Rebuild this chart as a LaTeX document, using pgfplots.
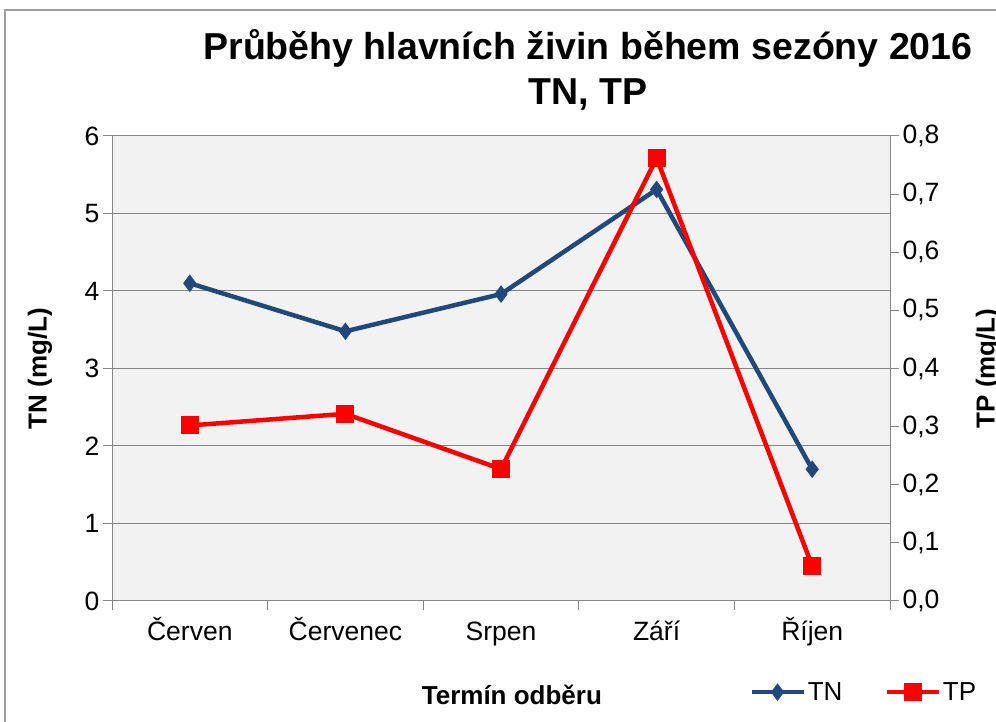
\documentclass[border=0pt]{standalone}
\usepackage{fontspec}
\setmainfont{Liberation Sans}
\usepackage{pgfplots}
\pgfplotsset{compat=1.18}
\definecolor{tnblue}{RGB}{31,73,125}
\definecolor{tpred}{RGB}{255,0,0}
\definecolor{plotbg}{RGB}{242,242,242}
\definecolor{axgray}{RGB}{134,134,134}
\begin{document}
\begin{tikzpicture}[x=1bp,y=1bp]
\useasboundingbox (0,0) rectangle (996,722);
\draw[color=axgray!80, line width=1.5bp] (5,-10) rectangle (1010,712);
\node[font=\fontsize{37.5bp}{45bp}\selectfont\bfseries, align=center] at (588,652) {Průběhy hlavních živin během sezóny 2016\\TN, TP};
\begin{axis}[
  at={(112bp,121bp)}, anchor=south west, scale only axis,
  width=778bp, height=465bp,
  xmin=-0.5, xmax=4.5, ymin=0, ymax=6,
  axis x line*=bottom, axis y line*=left,
  xtick={-0.5,0.5,1.5,2.5,3.5,4.5}, xticklabels={},
  extra x ticks={0,1,2,3,4},
  extra x tick labels={Červen,Červenec,Srpen,Září,Říjen},
  extra x tick style={major tick length=0pt,
    xticklabel style={anchor=north, text height=19bp, text depth=6bp, yshift=-17bp}},
  ytick={0,1,2,3,4,5,6},
  tick align=outside, major tick length=9bp,
  ymajorgrids, grid style={axgray, line width=1bp},
  axis line style={axgray, line width=1bp, -},
  tick style={axgray, line width=1bp},
  axis background/.style={fill=plotbg},
  ticklabel style={font=\fontsize{26.5bp}{30bp}\selectfont, black},
  /pgf/number format/assume math mode=true,
  xlabel={Termín odběru}, ylabel={TN (mg/L)},
  label style={font=\fontsize{26bp}{30bp}\selectfont\bfseries},
  xlabel style={at={(axis description cs:0.514,-0.202)}, anchor=center},
  ylabel style={at={(axis description cs:-0.0925,0.5)}, anchor=center},
]
\addplot[tnblue, line width=4.5bp, mark=diamond*, mark size=8bp,
  mark options={solid, fill=tnblue, line width=1bp}]
  coordinates {(0,4.10)(1,3.48)(2,3.96)(3,5.31)(4,1.70)};
\end{axis}
\begin{axis}[
  at={(112bp,121bp)}, anchor=south west, scale only axis,
  width=778bp, height=465bp,
  xmin=-0.5, xmax=4.5, ymin=0, ymax=0.8,
  axis y line*=right, axis x line=none,
  ytick={0,0.1,0.2,0.3,0.4,0.5,0.6,0.7,0.8},
  yticklabel style={/pgf/number format/.cd, fixed, fixed zerofill, precision=1, use comma},
  tick align=outside, major tick length=9bp,
  axis line style={axgray, line width=1bp, -},
  tick style={axgray, line width=1bp},
  ticklabel style={font=\fontsize{26.5bp}{30bp}\selectfont, black},
  /pgf/number format/assume math mode=true,
  ylabel={TP (mg/L)},
  label style={font=\fontsize{26bp}{30bp}\selectfont\bfseries},
  ylabel style={at={(axis description cs:1.126,0.5)}, anchor=center},
  legend style={at={(axis description cs:0.815,-0.196)}, anchor=west, draw=none, fill=none,
    font=\fontsize{26bp}{30bp}\selectfont, legend columns=2,
    /tikz/every even column/.append style={column sep=40bp}},
  legend image code/.code={\draw[mark repeat=2,mark phase=2] plot coordinates {(0bp,0bp)(26bp,0bp)(52bp,0bp)};},
]
\addlegendimage{tnblue, line width=4.5bp, mark=diamond*, mark size=8bp,
  mark options={solid, fill=tnblue, line width=1bp}}
\addlegendentry{TN}
\addplot[tpred, line width=4.5bp, mark=square*, mark size=8.5bp,
  mark options={solid, fill=tpred, line width=1bp}]
  coordinates {(0,0.302)(1,0.322)(2,0.227)(3,0.762)(4,0.060)};
\addlegendentry{TP}
\end{axis}
\end{tikzpicture}
\end{document}
